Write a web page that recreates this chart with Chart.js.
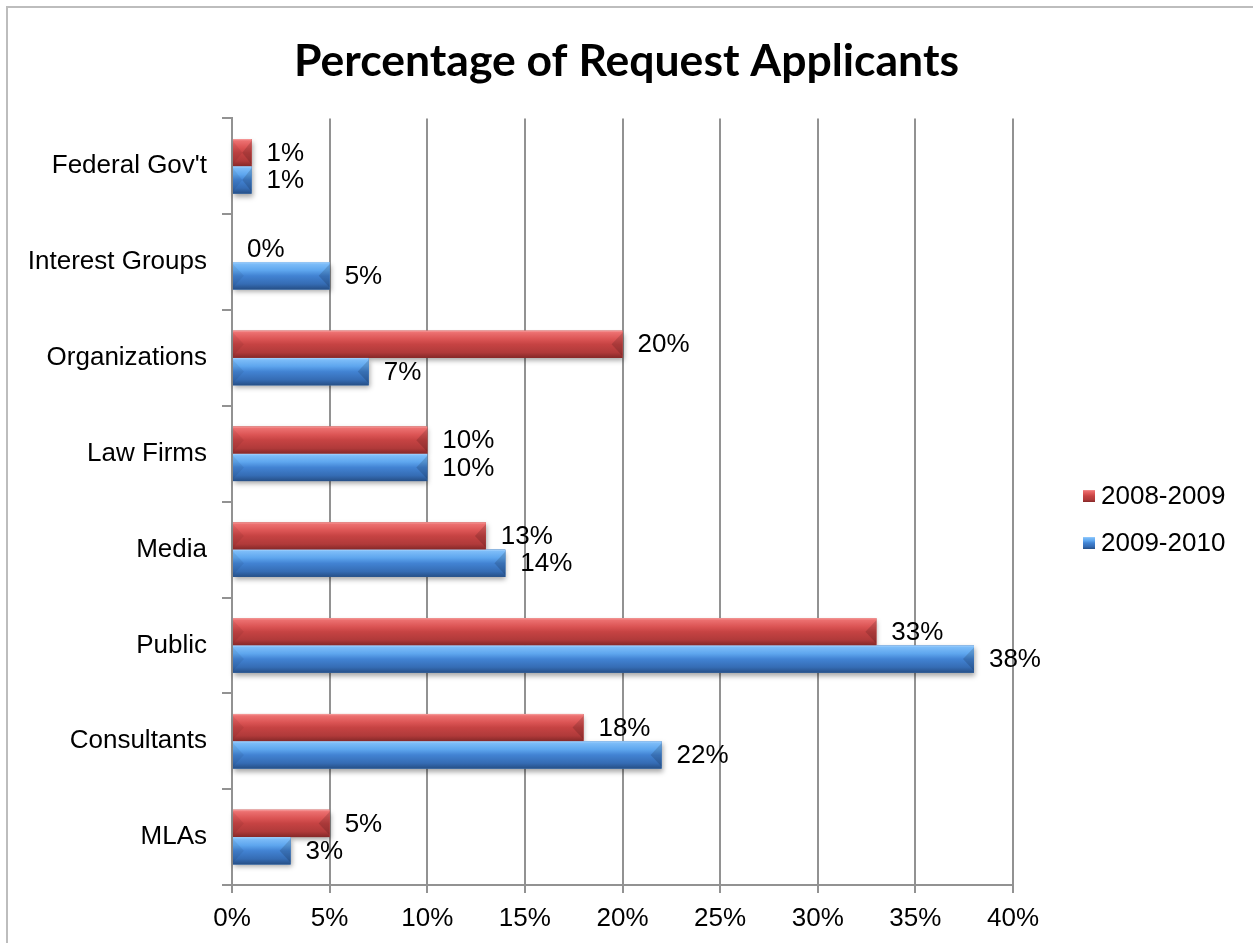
<!DOCTYPE html>
<html>
<head>
<meta charset="utf-8">
<script src="https://cdn.jsdelivr.net/npm/chart.js@4.4.1/dist/chart.umd.min.js"></script>
<style>
  html, body { margin: 0; padding: 0; background: #fff; overflow: hidden; }
  #frame { position: absolute; left: 6px; top: 6px; width: 3000px; height: 3000px;
           border-left: 2px solid #bdbdbd; border-top: 2px solid #bdbdbd; }
  #c { position: absolute; left: 0; top: 0; }
</style>
</head>
<body>
<div id="frame"></div>
<canvas id="c" width="1253" height="943"></canvas>
<script>
const titleText = 'Percentage of Request Applicants';
const categories = ["Federal Gov't", 'Interest Groups', 'Organizations', 'Law Firms', 'Media', 'Public', 'Consultants', 'MLAs'];
const seriesNames = ['2008-2009', '2009-2010'];
const values2008 = [1, 0, 20, 10, 13, 33, 18, 5];
const values2009 = [1, 5, 7, 10, 14, 38, 22, 3];
const xTickMin = 0, xTickMax = 40, xTickStep = 5;

const FONT = '"Liberation Sans", Arial, sans-serif';
const FS = 26;
const palettes = [
  { base: '#c0504d', stops: [[0, '#f7a0a0'], [0.07, '#ec7070'], [0.3, '#dc5555'], [0.5, '#c64343'], [0.8, '#b03a3a'], [1, '#842828']] },
  { base: '#4f81bd', stops: [[0, '#a6d4ff'], [0.07, '#7cbcf8'], [0.3, '#5ea6ee'], [0.5, '#4283d3'], [0.8, '#356cb4'], [1, '#264f86']] }
];

function barRect(el) {
  const h = el.height;
  const x0 = Math.min(el.base, el.x), x1 = Math.max(el.base, el.x);
  return { x0, x1, y0: el.y - h / 2, y1: el.y + h / 2, h };
}

const bevelPlugin = {
  id: 'bevel',
  beforeDatasetsDraw(chart) {
    const ctx = chart.ctx;
    chart.data.datasets.forEach((ds, di) => {
      chart.getDatasetMeta(di).data.forEach(el => {
        const r = barRect(el);
        if (r.x1 - r.x0 < 0.5) return;
        ctx.save();
        ctx.shadowColor = 'rgba(0,0,0,0.35)';
        ctx.shadowBlur = 5;
        ctx.shadowOffsetX = 1;
        ctx.shadowOffsetY = 3;
        ctx.fillStyle = palettes[di].base;
        ctx.fillRect(r.x0, r.y0, r.x1 - r.x0, r.h);
        ctx.restore();
      });
    });
  },
  afterDatasetsDraw(chart) {
    const ctx = chart.ctx;
    chart.data.datasets.forEach((ds, di) => {
      const meta = chart.getDatasetMeta(di);
      meta.data.forEach((el, i) => {
        const r = barRect(el);
        const w = r.x1 - r.x0;
        if (w >= 0.5) {
          ctx.save();
          const g = ctx.createLinearGradient(0, r.y0, 0, r.y1);
          palettes[di].stops.forEach(s => g.addColorStop(s[0], s[1]));
          ctx.fillStyle = g;
          ctx.fillRect(r.x0, r.y0, w, r.h);
          const c = Math.min(r.h * 0.4, w / 2);
          const ym = (r.y0 + r.y1) / 2;
          ctx.beginPath();
          ctx.moveTo(r.x0, r.y0 + 2); ctx.lineTo(r.x0 + c, ym); ctx.lineTo(r.x0, r.y1 - 2); ctx.closePath();
          ctx.fillStyle = 'rgba(0,0,0,0.06)';
          ctx.fill();
          ctx.beginPath();
          ctx.moveTo(r.x1, r.y0 + 2); ctx.lineTo(r.x1 - c, ym); ctx.lineTo(r.x1, r.y1 - 2); ctx.closePath();
          ctx.fillStyle = 'rgba(0,0,0,0.14)';
          ctx.fill();
          ctx.restore();
        }
        // data label
        ctx.save();
        ctx.font = FS + 'px ' + FONT;
        ctx.fillStyle = '#000';
        ctx.textAlign = 'left';
        ctx.textBaseline = 'middle';
        ctx.fillText(ds.data[i] + '%', r.x1 + 15, el.y + 1);
        ctx.restore();
      });
    });
  }
};

const legendPlugin = {
  id: 'customLegend',
  afterDraw(chart) {
    const ctx = chart.ctx;
    const left = chart.chartArea.right + 70;
    const rows = [496, 543];
    chart.data.datasets.forEach((ds, di) => {
      const y = rows[di];
      ctx.save();
      const g = ctx.createLinearGradient(0, y - 6, 0, y + 6);
      palettes[di].stops.forEach(s => g.addColorStop(s[0], s[1]));
      ctx.fillStyle = g;
      ctx.fillRect(left, y - 6, 12, 12);
      ctx.font = FS + 'px ' + FONT;
      ctx.fillStyle = '#000';
      ctx.textAlign = 'left';
      ctx.textBaseline = 'middle';
      ctx.fillText(ds.label, left + 18, y + 1);
      ctx.restore();
    });
  }
};

const gridColor = '#929292';

new Chart(document.getElementById('c'), {
  type: 'bar',
  data: {
    labels: categories,
    datasets: [
      { label: seriesNames[0], data: values2008, backgroundColor: palettes[0].base, categoryPercentage: 0.57, barPercentage: 1.0 },
      { label: seriesNames[1], data: values2009, backgroundColor: palettes[1].base, categoryPercentage: 0.57, barPercentage: 1.0 }
    ]
  },
  options: {
    indexAxis: 'y',
    responsive: false,
    animation: false,
    events: [],
    layout: { padding: 0 },
    scales: {
      x: {
        min: xTickMin, max: xTickMax,
        ticks: { stepSize: xTickStep, callback: v => v + '%', color: '#000', font: { family: FONT, size: FS }, padding: 10, maxRotation: 0 },
        grid: { color: gridColor, lineWidth: 2, tickLength: 8, drawTicks: true },
        border: { color: gridColor, width: 2 },
        afterFit: s => { s.height = 58; }
      },
      y: {
        ticks: { color: '#000', font: { family: FONT, size: FS }, padding: 15 },
        grid: { color: gridColor, lineWidth: 2, tickLength: 10, drawOnChartArea: false, drawTicks: true, offset: true },
        border: { color: gridColor, width: 2 },
        afterFit: s => { s.width = 232; }
      },
      legendSpace: {
        type: 'linear', position: 'right', display: true,
        ticks: { display: false }, grid: { display: false }, border: { display: false },
        afterFit: s => { s.width = 240; }
      }
    },
    plugins: {
      legend: { display: false },
      tooltip: { enabled: false },
      title: {
        display: true, text: titleText, color: '#000',
        font: { family: 'Lato, "Open Sans", sans-serif', size: 44.5, weight: 'bold', lineHeight: 1.2 },
        padding: { top: 35, bottom: 30 }
      }
    }
  },
  plugins: [bevelPlugin, legendPlugin]
});
</script>
</body>
</html>
